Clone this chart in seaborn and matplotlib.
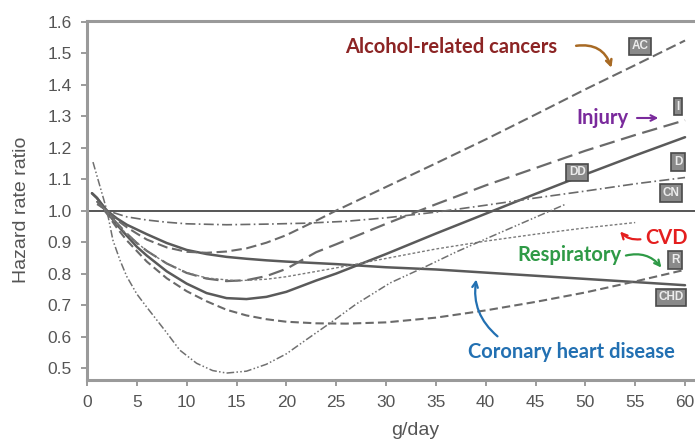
import numpy as np
import pandas as pd
import matplotlib
matplotlib.use("Agg")
import matplotlib.pyplot as plt
import seaborn as sns

# values (g/day -> hazard rate ratio)
x_chd = [0.5, 1, 2, 3, 4, 5, 6, 8, 10, 12, 14, 16, 18, 20, 25, 30, 35, 40, 45, 50, 55, 60]
y_chd = [1.055, 1.04, 1.0, 0.975, 0.955, 0.94, 0.925, 0.897, 0.875, 0.862, 0.853, 0.847, 0.842, 0.838, 0.83, 0.82, 0.813, 0.803, 0.793, 0.783, 0.773, 0.763]

x_d = [0.5, 1, 2, 3, 4, 5, 6, 8, 10, 12, 14, 16, 18, 20, 23, 25, 30, 35, 40, 45, 50, 55, 60]
y_d = [1.055, 1.04, 0.995, 0.955, 0.92, 0.885, 0.857, 0.807, 0.768, 0.738, 0.722, 0.719, 0.726, 0.742, 0.778, 0.8, 0.862, 0.927, 0.99, 1.053, 1.115, 1.175, 1.233]

x_ac = [1, 2, 3, 4, 5, 6, 8, 10, 12, 14, 16, 18, 20, 23, 25, 30, 35, 40, 45, 50, 55, 60]
y_ac = [1.03, 0.997, 0.97, 0.947, 0.927, 0.908, 0.883, 0.869, 0.866, 0.87, 0.88, 0.898, 0.922, 0.968, 1.0, 1.075, 1.15, 1.226, 1.305, 1.385, 1.462, 1.54]

x_inj = [1, 2, 3, 4, 5, 6, 8, 10, 12, 14, 16, 18, 20, 23, 25, 30, 35, 40, 45, 50, 55, 60]
y_inj = [1.03, 0.995, 0.96, 0.927, 0.897, 0.872, 0.832, 0.802, 0.784, 0.776, 0.779, 0.792, 0.815, 0.868, 0.893, 0.958, 1.02, 1.08, 1.135, 1.19, 1.24, 1.287]

x_cn = [1, 2, 4, 6, 8, 10, 14, 18, 22, 26, 30, 35, 40, 45, 50, 55, 60]
y_cn = [1.02, 1.0, 0.98, 0.97, 0.963, 0.958, 0.955, 0.957, 0.96, 0.966, 0.977, 0.995, 1.017, 1.04, 1.062, 1.085, 1.105]

x_cvd = [1, 2, 3, 4, 6, 8, 10, 12, 15, 18, 20, 25, 30, 35, 40, 45, 50, 55]
y_cvd = [1.03, 0.995, 0.957, 0.925, 0.872, 0.832, 0.803, 0.786, 0.777, 0.782, 0.79, 0.818, 0.848, 0.878, 0.903, 0.925, 0.945, 0.962]

x_resp = [1, 2, 3, 4, 6, 8, 10, 12, 14, 16, 18, 20, 23, 26, 30, 35, 40, 45, 50, 55, 60]
y_resp = [1.03, 0.99, 0.945, 0.905, 0.838, 0.785, 0.744, 0.712, 0.685, 0.667, 0.655, 0.647, 0.642, 0.641, 0.645, 0.66, 0.683, 0.71, 0.74, 0.775, 0.812]

x_dd = [0.6, 1, 2, 2.6, 3.3, 4, 5, 6, 8, 9.3, 11, 12.6, 14, 16, 18, 20, 22, 24.4, 27, 30.4, 33.7, 37, 40, 44, 48]
y_dd = [1.154, 1.11, 1.0, 0.906, 0.843, 0.79, 0.735, 0.693, 0.612, 0.557, 0.515, 0.492, 0.484, 0.49, 0.512, 0.545, 0.59, 0.643, 0.703, 0.77, 0.818, 0.868, 0.91, 0.965, 1.02]

ref_x = [0, 61]
ref_y = [1.0, 1.0]

box_labels = ["AC", "I", "D", "DD", "CN", "R", "CHD"]
box_x = [55.5, 59.3, 59.3, 49.2, 58.6, 59.0, 58.6]
box_y = [1.522, 1.33, 1.154, 1.122, 1.056, 0.843, 0.725]

sns.set_style("ticks")
plt.rcParams["font.family"] = ["Liberation Sans", "DejaVu Sans"]

fig = plt.figure(figsize=(6.95, 4.44), dpi=100)
ax = fig.add_axes([87 / 695, 64 / 444, 608 / 695, 359 / 444])

gray = "#5a5a5a"
sns.lineplot(x=ref_x, y=ref_y, ax=ax, color="#555555", lw=1.4)
sns.lineplot(x=x_chd, y=y_chd, ax=ax, color=gray, lw=1.8)
sns.lineplot(x=x_d, y=y_d, ax=ax, color=gray, lw=1.8)
sns.lineplot(x=x_ac, y=y_ac, ax=ax, color="#6a6a6a", lw=1.5, linestyle=(0, (5, 2.2)))
sns.lineplot(x=x_inj, y=y_inj, ax=ax, color="#6a6a6a", lw=1.6, linestyle=(0, (7, 3)))
sns.lineplot(x=x_cn, y=y_cn, ax=ax, color="#6a6a6a", lw=1.2, linestyle=(0, (6, 2, 1, 2)))
sns.lineplot(x=x_cvd, y=y_cvd, ax=ax, color="#7a7a7a", lw=1.0, linestyle=(0, (2, 1.5)))
sns.lineplot(x=x_resp, y=y_resp, ax=ax, color="#6a6a6a", lw=1.5, linestyle=(0, (4, 2)))
sns.lineplot(x=x_dd, y=y_dd, ax=ax, color="#707070", lw=1.1, linestyle=(0, (5, 1.5, 1, 1.5, 1, 1.5)))

for lab, bx, by in zip(box_labels, box_x, box_y):
    ax.text(bx, by, lab, fontsize=8.5, color="#ececec", ha="center", va="center", fontweight="bold",
            bbox=dict(boxstyle="square,pad=0.22", fc="#8a8a8a", ec="#4a4a4a", lw=1.2))

ax.set_xlim(0, 61)
ax.set_ylim(0.462, 1.602)
ax.set_xticks(np.arange(0, 61, 5))
ax.set_yticks(np.round(np.arange(0.5, 1.61, 0.1), 1))
ax.set_yticklabels([f"{v:.1f}" for v in np.arange(0.5, 1.61, 0.1)])
ax.tick_params(colors="#8a8a8a", labelcolor="#555555", labelsize=12.5, length=4, width=1.2, pad=7)
for s in ["left", "bottom", "top"]:
    ax.spines[s].set_color("#9a9a9a")
    ax.spines[s].set_linewidth(2.2)
ax.spines["right"].set_visible(False)
ax.set_xlabel("g/day", fontsize=14, color="#555555")
ax.set_ylabel("Hazard rate ratio", fontsize=14, color="#555555")
ax.xaxis.set_label_coords(0.54, -0.118)
ax.yaxis.set_label_coords(-0.094, 0.475)

afont = ["Lato", "DejaVu Sans"]
ax.text(25.9, 1.52, "Alcohol-related cancers", family=afont, fontweight="bold", fontsize=14.5, color="#8c2424", va="center")
ax.annotate("", xy=(52.7, 1.445), xytext=(48.8, 1.522),
            arrowprops=dict(arrowstyle="->", color="#a86a24", lw=1.8, connectionstyle="arc3,rad=-0.45"))
ax.text(49.1, 1.294, "Injury", family=afont, fontweight="bold", fontsize=14.5, color="#7a2a9c", va="center")
ax.annotate("", xy=(57.6, 1.294), xytext=(54.9, 1.294),
            arrowprops=dict(arrowstyle="->", color="#7a2a9c", lw=1.5))
ax.text(56.0, 0.913, "CVD", family=afont, fontweight="bold", fontsize=14.5, color="#e41e1e", va="center")
ax.annotate("", xy=(53.3, 0.94), xytext=(55.8, 0.91),
            arrowprops=dict(arrowstyle="->", color="#e41e1e", lw=1.6, connectionstyle="arc3,rad=-0.3"))
ax.text(43.2, 0.859, "Respiratory", family=afont, fontweight="bold", fontsize=14.5, color="#2e9a46", va="center")
ax.annotate("", xy=(57.8, 0.812), xytext=(53.8, 0.855),
            arrowprops=dict(arrowstyle="->", color="#2e9a46", lw=1.6, connectionstyle="arc3,rad=-0.35"))
ax.text(38.2, 0.55, "Coronary heart disease", family=afont, fontweight="bold", fontsize=14.5, color="#2270b2", va="center")
ax.annotate("", xy=(39.1, 0.79), xytext=(41.4, 0.595),
            arrowprops=dict(arrowstyle="->", color="#2270b2", lw=1.6, connectionstyle="arc3,rad=-0.3"))

fig.savefig("out.png", dpi=100)
